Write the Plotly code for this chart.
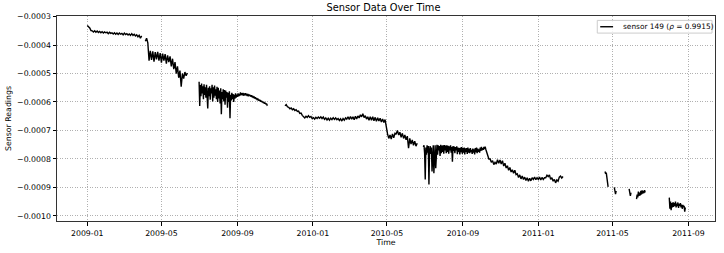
import pandas as pd
import plotly.graph_objects as go

# Sensor readings in units of 1e-6, per contiguous segment
seg_starts = ["2009-01-01", "2009-04-05", "2009-07-01", "2009-11-17", "2010-06-29", "2010-10-15",
              "2011-04-19", "2011-05-04", "2011-05-28", "2011-06-09", "2011-08-01"]
seg_freqs = ["2D", "2D", "1D", "2D", "1D", "2D", "1D", "1D", "1D", "1D", "1D"]
seg_gap_after = [True, True, True, True, False, True, True, True, True, True, True]

seg1 = [-331, -334, -340, -349, -350, -354, -350, -355, -351, -356, -352, -357, -353, -358, -354,
        -357, -355, -360, -355, -359, -357, -361, -357, -362, -358, -363, -358, -362, -359, -364,
        -358, -363, -360, -365, -361, -366, -360, -366, -362, -368, -364, -371, -366, -376, -368]
seg2 = [-387, -376, -392, -455, -420, -452, -422, -458, -425, -450, -424, -455, -428, -462, -430,
        -455, -432, -465, -436, -460, -440, -475, -448, -485, -460, -500, -475, -515, -490, -546,
        -500, -518, -495, -508, -498]
seg3 = [-529, -614, -540, -580, -535, -570, -545, -590, -538, -575,
        -548, -585, -540, -600, -623, -550, -580, -545, -592, -552,
        -570, -540, -598, -548, -585, -542, -578, -555, -590, -547,
        -600, -550, -588, -560, -605, -552, -643, -565, -590, -555,
        -598, -558, -610, -560, -585, -565, -620, -568, -600, -562,
        -657, -575, -595, -568, -590, -572, -600, -575, -588, -570,
        -585, -574, -582, -570, -580, -572, -578, -566, -576, -569,
        -577, -568, -578, -570, -576, -569, -577, -571, -579, -572,
        -580, -574, -579, -575, -582, -576, -584, -579, -586, -581,
        -588, -583, -590, -586, -593, -588, -595, -591, -597, -593,
        -599, -596, -601, -598, -604, -600, -606, -603, -608, -605,
        -611, -609]
seg4 = [-613, -609, -617, -619, -624, -621, -627, -624, -630, -627,
        -633, -632, -640, -639, -647, -650, -656, -650, -654, -648,
        -654, -651, -658, -655, -660, -654, -658, -653, -657, -652,
        -658, -653, -661, -656, -663, -657, -664, -657, -662, -655,
        -661, -656, -662, -658, -665, -659, -667, -658, -664, -656,
        -660, -652, -661, -651, -660, -652, -662, -650, -660, -649,
        -656, -645, -652, -641, -655, -648, -660, -652, -664, -652,
        -664, -652, -666, -654, -668, -655, -667, -657, -670, -660,
        -672, -662, -695, -712, -728, -716, -730, -712, -726, -710,
        -712, -700, -716, -706, -724, -710, -728, -716, -733, -720,
        -762, -728, -748, -733, -752, -738, -755, -745]
seg5a = [-758, -752, -780, -872, -760, -785, -752, -778, -755, -890,
         -770, -755, -782, -760, -844, -768, -752, -850, -775, -752,
         -833, -760, -750, -785, -752, -770, -755, -790, -750, -780,
         -753, -775, -752, -782, -751, -770, -753, -780, -752, -775,
         -754, -782, -756, -770, -752, -778, -758, -810, -755, -772,
         -757, -780, -758, -770, -756, -783, -760, -775, -762, -784,
         -760, -776, -758, -782, -762, -778, -760, -784, -763, -775,
         -762, -782, -760, -778, -765, -780, -762, -776, -768, -782,
         -764, -778, -766, -784, -762, -776, -760, -780, -764, -775,
         -766, -778, -760, -772, -758, -770, -762, -768, -758, -765,
         -757, -766, -772, -780, -785, -790, -800]
seg5b = [-800, -812, -806, -820, -812, -818, -803, -815, -804, -818,
         -806, -825, -815, -832, -824, -840, -830, -846, -838, -850,
         -840, -855, -852, -865, -856, -870, -860, -872, -864, -876,
         -866, -878, -868, -877, -866, -872, -864, -873, -866, -872,
         -864, -874, -865, -872, -866, -866, -857, -862, -856, -872,
         -866, -878, -872, -884, -874, -878, -864, -860, -867, -862]
seg6 = [-844, -852, -848, -870, -880, -898]
seg7 = [-900, -915, -924, -912]
seg8 = [-905, -925, -930, -918]
seg9 = [-941, -925, -935, -915, -930, -918, -928, -912, -925, -910, -922, -912, -920, -910, -918]
seg10 = [-936, -975, -950, -980, -955, -970, -952, -968, -955, -965, -950, -970, -957, -966, -953,
         -972, -958, -965, -955, -970, -960, -975, -962, -968, -965, -985, -970]

segments = [seg1, seg2, seg3, seg4, seg5a, seg5b, seg6, seg7, seg8, seg9, seg10]

x_ticks = ["2009-01-01", "2009-05-01", "2009-09-01", "2010-01-01", "2010-05-01",
           "2010-09-01", "2011-01-01", "2011-05-01", "2011-09-01"]
y_ticks = [-0.0003, -0.0004, -0.0005, -0.0006, -0.0007, -0.0008, -0.0009, -0.0010]
legend_label = "sensor 149 (<i>ρ</i> = 0.9915)"

xs, ys = [], []
for start, freq, gap, vals in zip(seg_starts, seg_freqs, seg_gap_after, segments):
    dates = pd.date_range(start, periods=len(vals), freq=freq)
    xs.extend(list(dates))
    ys.extend([v * 1e-6 for v in vals])
    if gap:
        xs.append(dates[-1] + pd.Timedelta(days=1))
        ys.append(None)  # break the line between segments

fig = go.Figure()
fig.add_trace(go.Scatter(
    x=xs, y=ys, mode="lines",
    line=dict(color="black", width=1.4),
    name="sensor 149 (ρ = 0.9915)",
    showlegend=False,
    connectgaps=False,
))

# plot area in pixels: x 51..716, y 16..226
L, R, T, B = 51, 716, 16, 226
def px(xp):
    return (xp - L) / (R - L)
def py(yp):
    return 1 - (yp - T) / (B - T)

font_family = "DejaVu Sans"
fs = 7.8
fig.update_layout(
    width=724, height=253,
    margin=dict(l=L, r=724 - R, t=T, b=253 - B),
    paper_bgcolor="white", plot_bgcolor="white",
    font=dict(family=font_family, size=fs, color="black"),
    title=dict(text="Sensor Data Over Time", x=(L + R) / 2 / 724, xanchor="center",
               y=1 - 8 / 253, yanchor="middle", font=dict(size=9.8, color="black")),
    showlegend=False,
    shapes=[
        dict(type="rect", xref="paper", yref="paper", x0=px(597), x1=px(713),
             y0=py(33.5), y1=py(20.5), fillcolor="rgba(255,255,255,0.85)",
             line=dict(color="#cccccc", width=1), layer="above"),
        dict(type="line", xref="paper", yref="paper", x0=px(600), x1=px(613),
             y0=py(27), y1=py(27), line=dict(color="black", width=1.4), layer="above"),
    ],
    annotations=[
        dict(text=legend_label, xref="paper", yref="paper", x=px(620.5), y=py(27.2),
             xanchor="left", yanchor="middle", showarrow=False,
             font=dict(size=7.4, color="black", family=font_family)),
    ],
)
fig.update_xaxes(
    type="date",
    range=["2008-11-13", "2011-10-14"],
    tickvals=x_ticks, tickformat="%Y-%m",
    ticks="outside", ticklen=3.5, tickcolor="black", tickwidth=0.8,
    ticklabelstandoff=1,
    showline=True, linecolor="#333333", linewidth=1, mirror=True,
    showgrid=True, gridcolor="#b0b0b0", griddash="1px,1.5px", gridwidth=0.8,
    zeroline=False,
    title=dict(text="Time", font=dict(size=fs), standoff=2),
)
fig.update_yaxes(
    range=[-0.001018, -0.000298],
    tickvals=y_ticks, tickformat=".4f",
    ticks="outside", ticklen=3.5, tickcolor="black", tickwidth=0.8,
    showline=True, linecolor="#333333", linewidth=1, mirror=True,
    showgrid=True, gridcolor="#b0b0b0", griddash="1px,1.5px", gridwidth=0.8,
    zeroline=False,
    title=dict(text="Sensor Readings", font=dict(size=fs), standoff=4),
)

fig.write_html("out.html")
